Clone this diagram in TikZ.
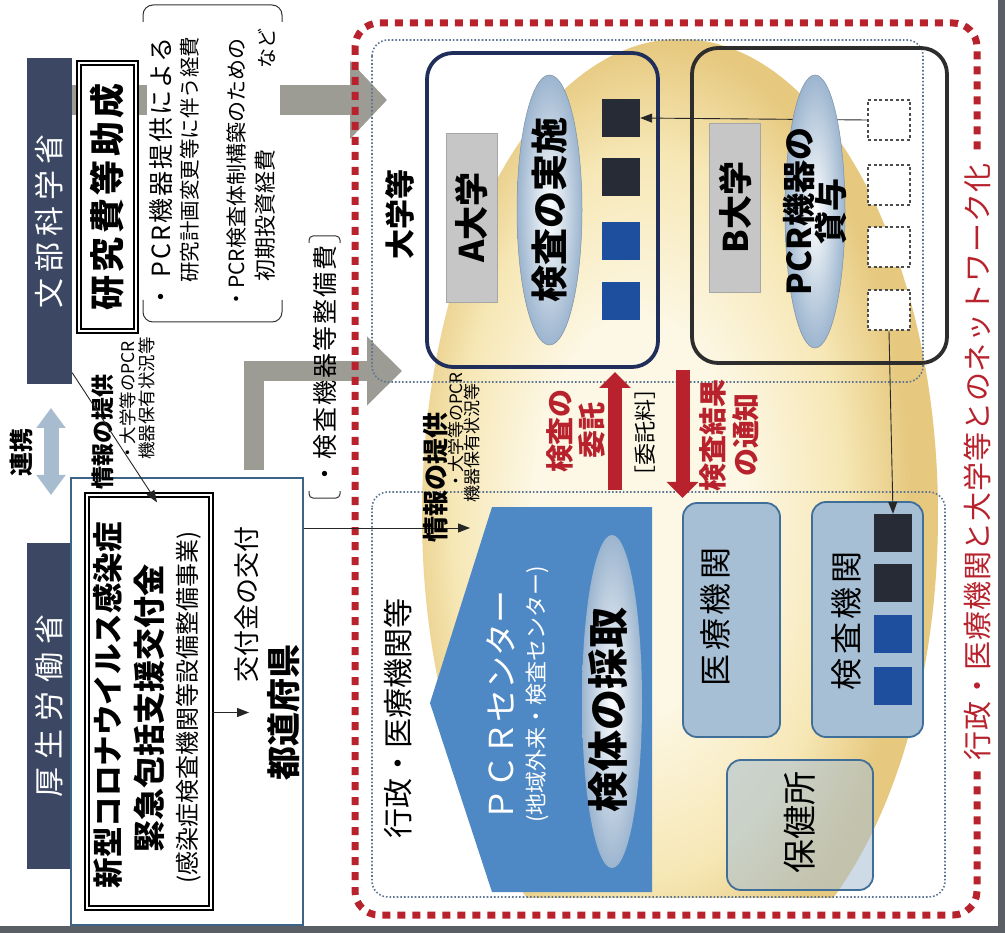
\documentclass[tikz,border=0pt]{standalone}
\usepackage{fontspec}
\setmainfont{Noto Sans CJK JP}
\usepackage{xcolor}
\usepackage{tikz}
\usetikzlibrary{positioning,shapes.geometric,arrows.meta}

\definecolor{bannernavy}{HTML}{3B4763}
\definecolor{bandgray}{HTML}{9D9C94}
\definecolor{netred}{HTML}{B7222C}
\definecolor{dotblue}{HTML}{5C7593}
\definecolor{anavy}{HTML}{1F2E5A}
\definecolor{bdark}{HTML}{2D2D2D}
\definecolor{taggray}{HTML}{C6C6C6}
\definecolor{pcrblue}{HTML}{4E89C5}
\definecolor{facblue}{HTML}{A7BFD5}
\definecolor{facedge}{HTML}{3F6F98}
\definecolor{sqdark}{HTML}{262B36}
\definecolor{sqblue}{HTML}{1D4F9E}
\definecolor{linkblue}{HTML}{A8BCCF}
\definecolor{prefblue}{HTML}{3D6486}
\definecolor{pillblue}{HTML}{9CB5CF}
\definecolor{blobin}{HTML}{FDF8E6}
\definecolor{blobmid}{HTML}{F6E7B5}
\definecolor{blobout}{HTML}{E6C87E}
\definecolor{scan}{HTML}{5A5F66}

\pgfdeclareradialshading{yolk}{\pgfpoint{-5bp}{0bp}}{color(0bp)=(blobin); color(10bp)=(blobin); color(19bp)=(blobmid); color(25bp)=(blobout); color(50bp)=(blobout)}

\newcommand{\fsz}[1]{\fontsize{#1}{#1}\selectfont}

\tikzset{lbl/.style={rotate=90,inner sep=0pt},
	banner node/.style={rotate=90,fill=bannernavy,text=white,minimum width=326pt,minimum height=45pt,inner sep=0pt,font=\fsz{30}},
	double node/.style={draw=black,double,double distance=2.6pt,line width=1.3pt,fill=white,inner sep=0pt},
	uni box/.style={draw,line width=3.8pt,rounded corners=26pt,inner sep=0pt},
	name tag/.style={rotate=90,fill=taggray,draw=gray!70,minimum width=169pt,minimum height=51pt,inner sep=0pt,font=\bfseries\fsz{34}},
	kit/.style={minimum size=38pt,inner sep=0pt},
	empty kit/.style={draw=black!70,fill=white,line width=2.5pt,dash pattern=on 3pt off 2.5pt,minimum width=42pt,minimum height=40pt,inner sep=0pt},
	pill/.style={ellipse,draw=pillblue!80!black,line width=.5pt,inner color=white,outer color=pillblue,inner sep=0pt},
	facility/.style={draw=facedge,line width=1.8pt,fill=facblue,rounded corners=14pt,inner sep=0pt},
	thin arrow/.style={draw=black!85,line width=.9pt,-{Triangle[length=12pt,width=9pt]}},
	red arrow/.style={draw=netred,line width=14pt,-{Triangle[length=16pt,width=31pt]}},
	link arrow/.style={draw=linkblue,line width=15pt,{Triangle[length=20pt,width=28pt]}-{Triangle[length=20pt,width=28pt]}},
	band/.style={draw=bandgray},
	blue dots/.style={draw=dotblue,line width=1.6pt,dash pattern=on 1.6pt off 2pt,rounded corners=16pt},
	red dots/.style={draw=netred,line width=7pt,dash pattern=on 8pt off 7pt,rounded corners=24pt},
	note bracket/.style={draw=black!80,line width=1pt},
}

\begin{document}
\begin{tikzpicture}[x=1pt,y=-1pt]
	\useasboundingbox (0,0) rectangle (1005,933);
	\fill[white] (0,0) rectangle (1005,933);

	\begin{scope}
	\clip (372,40) rectangle (945,897);
	\shade[shading=yolk] (680,515) ellipse [x radius=258pt,y radius=476pt];
	\end{scope}

	\coordinate (bandStart) at (72,100);
	\coordinate (bandTip) at (387,100);
	\coordinate (lTail) at (254,470);
	\coordinate (lTip) at (402,371);
	\draw[band,line width=30pt,-{Triangle[length=37pt,width=76pt]}] (bandStart) -- (bandTip);
	\draw[band,line width=20pt,-{Triangle[length=35pt,width=67pt]}] (lTail) |- (lTip);

	\fill[white] (147,0) rectangle (280,330);
	\draw[note bracket,rounded corners=10pt] (143,22) |- (282,5) -- (282,22);
	\draw[note bracket,rounded corners=10pt] (143,300) |- (282,322) -- (282,300);
	\node[lbl,anchor=west,font=\fsz{25}] (note1) at (161,310) {\addfontfeatures{LetterSpace=8}・ PCR機器提供による};
	\node[lbl,anchor=west,font=\fsz{20.5}] (note2) at (190,283) {研究計画変更等に伴う経費};
	\node[lbl,anchor=west,font=\fsz{21}] (note3) at (237,310) {・PCR検査体制構築のための};
	\node[lbl,anchor=west,font=\fsz{22}] (note4) at (265,282) {初期投資経費};
	\node[lbl,anchor=east,font=\fsz{20}] (note5) at (267,28) {など};

	\node[lbl,anchor=west,font=\fsz{25}] (equip) at (325,487) {\addfontfeatures{LetterSpace=8}・検査機器等整備費};
	\draw[note bracket,rounded corners=4pt] (309,243) |- (340,236) -- (340,243);
	\draw[note bracket,rounded corners=4pt] (309,491) |- (340,498) -- (340,491);

	\node[banner node] (monka) at (49.5,221.5) {\addfontfeatures{LetterSpace=20}文部科学省};
	\node[banner node] (kosei) at (49,706) {\addfontfeatures{LetterSpace=28}厚生労働省};
	\node[double node,rotate=90,minimum width=268pt,minimum height=57pt,font=\bfseries\fsz{35}] (josei) at (107.5,197) {\addfontfeatures{LetterSpace=10}研究費等助成};

	\draw[blue dots] (372,40) rectangle (923,382);
	\draw[blue dots] (372,492) rectangle (945,897);
	\draw[red dots] (355,23) rectangle (977,915);
	\node[lbl,fill=white,inner xsep=10pt,inner ysep=3pt,text=netred,font=\fsz{29}] (network) at (977,462) {\addfontfeatures{LetterSpace=3}行政・医療機関と大学等とのネットワーク化};

	\node[lbl,font=\bfseries\fsz{30}] (univs) at (400,215) {大学等};
	\node[lbl,font=\fsz{30}] (admin) at (398,718) {行政・医療機関等};

	\node[uni box,draw=anavy,minimum width=231pt,minimum height=314pt] (univA) at (542.5,210) {};
	\node[name tag] (tagA) at (471.5,217.5) {A大学};
	\foreach \y/\c [count=\i] in {118/sqdark,177/sqdark,241/sqblue,301/sqblue}
		\node[kit,fill=\c] (a\i) at (621,\y) {};

	\node[uni box,draw=bdark,minimum width=255pt,minimum height=315pt] (univB) at (819.5,205.5) {};
	\node[name tag] (tagB) at (735,207.5) {B大学};
	\foreach \y [count=\i] in {120,185,247,310}
		\node[empty kit] (b\i) at (889,\y) {};
	\draw[thin arrow] (b1.west) -- (a1.east);
	\node[pill,minimum width=60pt,minimum height=273pt] (lend) at (815,211.5) {};
	\node[lbl,align=center,font=\bfseries\fontsize{33}{32}\selectfont] (lendText) at (lend) {PCR機器の\\貸与};
	\node[pill,minimum width=65pt,minimum height=270pt] (exam) at (549.5,210) {};
	\node[lbl,font=\bfseries\fsz{37}] (examText) at (exam) {検査の実施};

	\coordinate (reqTail) at (615,490);
	\coordinate (reqTip) at (615,372);
	\coordinate (resTail) at (682.5,370);
	\coordinate (resTip) at (682.5,498);
	\draw[red arrow] (reqTail) -- (reqTip);
	\draw[red arrow] (resTail) -- (resTip);
	\node[lbl,align=center,text=netred,font=\bfseries\fontsize{28}{32}\selectfont] (req) at (576,431) {検査の\\委託};
	\node[lbl,font=\fsz{22}] (fee) at (645,432) {［委託料］};
	\node[lbl,align=center,text=netred,font=\bfseries\fontsize{28}{33}\selectfont] (res) at (729.5,435) {検査結果\\の通知};

	\fill[pcrblue] (492,507) -- (652,507) -- (652,892) -- (492,892) -- (430,703) -- cycle;
	\node[lbl,text=white,font=\fsz{33}] (pcr) at (501,706) {ＰＣＲセンター};
	\node[lbl,text=white,font=\fsz{22}] (pcrSub) at (537,694) {(地域外来・検査センター)};
	\node[pill,draw=none,minimum width=60pt,minimum height=333pt] (swab) at (612,701.5) {};
	\node[lbl,font=\bfseries\fsz{41}] (swabText) at (608,710) {検体の採取};

	\node[facility,minimum width=97pt,minimum height=234pt] (clinic) at (731.5,620) {};
	\node[lbl,font=\fsz{32}] (clinicText) at (715,617) {\addfontfeatures{LetterSpace=12}医療機関};
	\node[facility,minimum width=111pt,minimum height=235pt] (lab) at (867.5,619.5) {};
	\node[lbl,font=\fsz{32}] (labText) at (846,621) {\addfontfeatures{LetterSpace=12}検査機関};
	\foreach \y/\c [count=\i] in {533/sqdark,583/sqdark,634/sqblue,686/sqblue}
		\node[kit,fill=\c] (k\i) at (893,\y) {};
	\draw[thin arrow] (b4.south) -- (k1.north);
	\node[facility,fill opacity=.55,minimum width=146pt,minimum height=130pt] (health) at (800,825) {};
	\node[lbl,font=\fsz{34}] (healthText) at (800,822) {保健所};

	\node[draw=prefblue,line width=1.5pt,fill=white,minimum width=232pt,minimum height=447pt,inner sep=0pt] (pref) at (187,701.5) {};
	\node[double node,minimum width=124pt,minimum height=413pt] (grant) at (149,701.5) {};
	\node[lbl,font=\bfseries\fsz{30.5}] (grant1) at (108,705) {新型コロナウイルス感染症};
	\node[lbl,font=\bfseries\fsz{32}] (grant2) at (149,708) {緊急包括支援交付金};
	\node[lbl,font=\fsz{24}] (grant3) at (189,707) {(感染症検査機関等設備整備事業)};
	\node[lbl,font=\fsz{26}] (deliver) at (247,604) {交付金の交付};
	\node[lbl,font=\bfseries\fsz{34}] (todo) at (283.5,712.5) {都道府県};
	\draw[thin arrow,shorten >=18pt] (grant.east |- todo) -- (todo.north);

	\coordinate (linkTop) at (51,408);
	\coordinate (linkBot) at (51,495);
	\draw[link arrow] (linkTop) -- (linkBot);
	\node[lbl,font=\bfseries\fsz{24}] (link) at (21,453) {連携};

	\node[lbl,anchor=west,font=\bfseries\fsz{23}] (info1) at (103,490) {情報の提供};
	\node[lbl,anchor=west,font=\fsz{17.5}] (info1a) at (128,462) {・大学等のPCR};
	\node[lbl,anchor=west,font=\fsz{17.5}] (info1b) at (147,460) {機器保有状況等};
	\draw[thin arrow] ([yshift=12pt]monka.south west) -- ([xshift=8pt,yshift=-8pt]grant.north);

	\coordinate (infoTip) at (470,528);
	\draw[thin arrow] (pref.east |- infoTip) -- (infoTip);
	\node[lbl,anchor=west,font=\bfseries\fsz{26}] (info2) at (436,543) {情報の提供};
	\node[lbl,anchor=west,font=\fsz{17}] (info2a) at (456,490) {・大学等のPCR};
	\node[lbl,anchor=west,font=\fsz{17}] (info2b) at (472,503) {機器保有状況等};

	\fill[scan] (0,926) rectangle (1005,933);
	\fill[scan] (998,0) rectangle (1005,933);
\end{tikzpicture}
\end{document}
